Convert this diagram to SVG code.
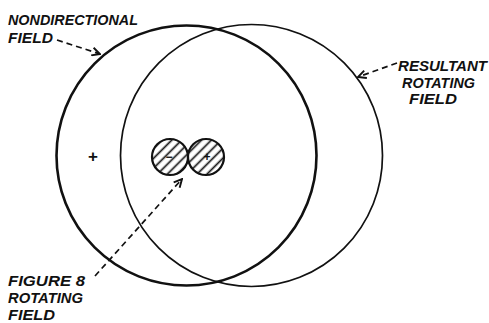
<svg xmlns="http://www.w3.org/2000/svg" width="489" height="323" viewBox="0 0 489 323">
<style>
.lbl{font-family:"Liberation Sans",Arial,sans-serif;font-weight:bold;font-style:italic;font-size:15px;fill:#111}
.lead{fill:none;stroke:#111;stroke-width:1.7;stroke-dasharray:6 4}
.sym{font-family:"Liberation Sans",Arial,sans-serif;font-weight:bold;fill:#111;text-anchor:middle}
</style>
<defs>
<marker id="ah" viewBox="0 0 10 10" refX="9" refY="5" markerWidth="10" markerHeight="10" markerUnits="userSpaceOnUse" orient="auto">
<path d="M1,1 L9,5 L1,9" fill="none" stroke="#111" stroke-width="1.9"/>
</marker>
<pattern id="hatch" width="7" height="7" patternUnits="userSpaceOnUse" patternTransform="rotate(-45)">
<line x1="0" y1="3.5" x2="7" y2="3.5" stroke="#111" stroke-width="1.7"/>
</pattern>
<clipPath id="c1"><circle cx="170" cy="157" r="18"/></clipPath>
<clipPath id="c2"><circle cx="206" cy="157" r="18"/></clipPath>
</defs>
<rect width="489" height="323" fill="#fff"/>
<g id="nondirectional-field">
<circle cx="186.5" cy="155.5" r="130" fill="none" stroke="#111" stroke-width="2.6"/>
<text class="lbl" x="8" y="25" textLength="130" lengthAdjust="spacingAndGlyphs">NONDIRECTIONAL</text>
<text class="lbl" x="8" y="43" textLength="45" lengthAdjust="spacingAndGlyphs">FIELD</text>
<text class="sym" x="93" y="162" font-size="17">+</text>
</g>
<g id="resultant-rotating-field">
<circle cx="251.5" cy="155.5" r="131" fill="none" stroke="#111" stroke-width="1.7"/>
<text class="lbl" x="398" y="71" textLength="89" lengthAdjust="spacingAndGlyphs">RESULTANT</text>
<text class="lbl" x="402" y="88" textLength="73" lengthAdjust="spacingAndGlyphs">ROTATING</text>
<text class="lbl" x="409" y="104" textLength="48" lengthAdjust="spacingAndGlyphs">FIELD</text>
</g>
<g id="figure-8-rotating-field">
<rect x="150" y="137" width="76" height="40" fill="url(#hatch)" clip-path="url(#c1)"/>
<rect x="150" y="137" width="76" height="40" fill="url(#hatch)" clip-path="url(#c2)"/>
<circle cx="170" cy="157" r="18" fill="none" stroke="#111" stroke-width="2.2"/>
<circle cx="206" cy="157" r="18" fill="none" stroke="#111" stroke-width="2.2"/>
<text class="sym" x="169" y="161" font-size="12">−</text>
<text class="sym" x="207" y="161" font-size="12">+</text>
<text class="lbl" x="8" y="286" textLength="77" lengthAdjust="spacingAndGlyphs">FIGURE 8</text>
<text class="lbl" x="8" y="303" textLength="75" lengthAdjust="spacingAndGlyphs">ROTATING</text>
<text class="lbl" x="8" y="320" textLength="47" lengthAdjust="spacingAndGlyphs">FIELD</text>
</g>
<g id="connectors">
<path class="lead" d="M57,40 L100,54" marker-end="url(#ah)"/>
<path class="lead" d="M397,63 L358,77" marker-end="url(#ah)"/>
<path class="lead" d="M95,276 L182,179" marker-end="url(#ah)"/>
</g>
</svg>
